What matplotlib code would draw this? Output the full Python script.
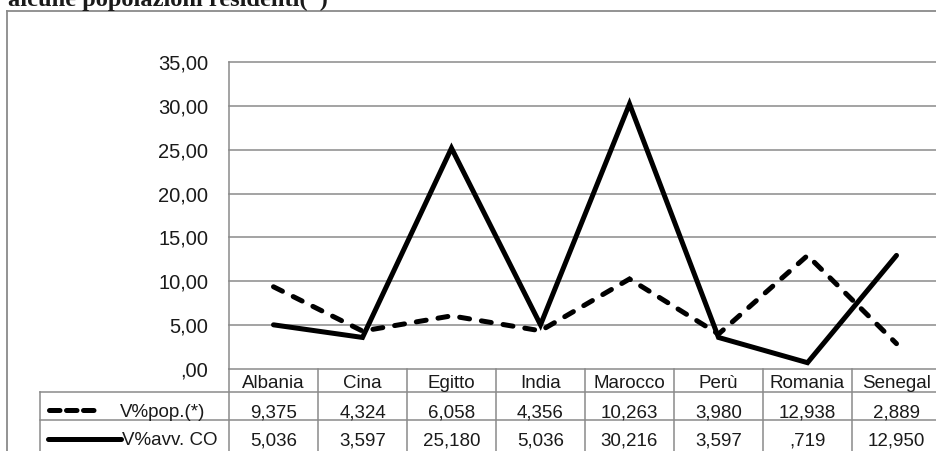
import matplotlib
matplotlib.use("Agg")
import matplotlib.pyplot as plt
from matplotlib.lines import Line2D

W, H, DPI = 937, 451, 100

paesi = ["Albania", "Cina", "Egitto", "India", "Marocco", "Perù", "Romania", "Senegal"]
pop_pct = [9.375, 4.324, 6.058, 4.356, 10.263, 3.980, 12.938, 2.889]
avv_pct = [5.036, 3.597, 25.180, 5.036, 30.216, 3.597, 0.719, 12.950]
serie_nomi = ["V%pop.(*)", "V%avv. CO"]
y_ticks = [0, 5, 10, 15, 20, 25, 30, 35]
titolo = "alcune popolazioni residenti(*)"


def fmt(v, nd):
    s = f"{v:.{nd}f}".replace(".", ",")
    if s.startswith("0,"):
        s = s[1:]
    return s


GRID = "#8a8a8a"
TXT = "#1a1a1a"
FONT = "Liberation Sans"
LW = 3.6
DASH = (0, (2.0, 2.4))

fig = plt.figure(figsize=(W / DPI, H / DPI), dpi=DPI)


def fx(px):
    return px / W


def fy(py):
    return 1 - py / H


def hline(x0, x1, y, **kw):
    fig.add_artist(Line2D([fx(x0), fx(x1)], [fy(y), fy(y)], transform=fig.transFigure,
                          color=kw.pop("color", GRID), lw=kw.pop("lw", 1.1), **kw))


def vline(x, y0, y1, **kw):
    fig.add_artist(Line2D([fx(x), fx(x)], [fy(y0), fy(y1)], transform=fig.transFigure,
                          color=kw.pop("color", GRID), lw=kw.pop("lw", 1.1), **kw))


# outer frame of the chart object
hline(7, 945, 10.5, lw=1.3)
vline(7, 10.5, 460, lw=1.3)

# title (partly above the page edge)
fig.text(fx(8), fy(6), titolo, fontfamily="Liberation Serif", fontweight="bold",
         fontsize=17.6, color=TXT, va="baseline", ha="left")

# plot area
X0, COLW = 229, 89
X1 = X0 + COLW * len(paesi)
Y_TOP, Y_BOT = 62, 369
ax = fig.add_axes([fx(X0), fy(Y_BOT), (X1 - X0) / W, (Y_BOT - Y_TOP) / H])
ax.set_xlim(-0.5, len(paesi) - 0.5)
ax.set_ylim(0, 35)
for s in ["top", "right", "bottom"]:
    ax.spines[s].set_visible(False)
ax.spines["left"].set_color(GRID)
ax.spines["left"].set_linewidth(1.1)
ax.set_xticks([])
ax.set_yticks(y_ticks)
ax.set_yticklabels([fmt(v, 2) for v in y_ticks], fontfamily=FONT, fontsize=14.5, color=TXT)
ax.tick_params(axis="y", length=0, pad=15)
for v in y_ticks:
    ax.axhline(v, color=GRID, lw=1.1, zorder=1, clip_on=False)

xs = list(range(len(paesi)))
ax.plot(xs, pop_pct, color="black", lw=LW, ls=DASH, dash_capstyle="round",
        dash_joinstyle="miter", zorder=3, clip_on=False)
ax.plot(xs, avv_pct, color="black", lw=LW, solid_joinstyle="miter",
        solid_capstyle="round", zorder=3, clip_on=False)

# data table below the axis
R1, R2, YEND = 392, 420, 460
LX = 40
for i in range(1, len(paesi) + 1):
    vline(X0 + i * COLW, Y_BOT, YEND)
vline(X0, Y_BOT, YEND)
vline(LX, R1, YEND)
hline(LX, X1, R1)
hline(LX, X1, R2)

tkw = dict(fontfamily=FONT, fontsize=13.5, color=TXT, ha="center", va="baseline")
for i, (p, a, b) in enumerate(zip(paesi, pop_pct, avv_pct)):
    cx = fx(X0 + (i + 0.5) * COLW)
    fig.text(cx, fy(388), p, **tkw)
    fig.text(cx, fy(417), fmt(a, 3), **tkw)
    fig.text(cx, fy(445), fmt(b, 3), **tkw)

# row labels with series keys
fig.add_artist(Line2D([fx(49), fx(98)], [fy(410), fy(410)], transform=fig.transFigure,
                      color="black", lw=LW, ls=(0, (2.1, 1.3)), dash_capstyle="round"))
fig.add_artist(Line2D([fx(48), fx(121)], [fy(438.5), fy(438.5)], transform=fig.transFigure,
                      color="black", lw=LW, solid_capstyle="round"))
lkw = dict(fontfamily=FONT, fontsize=13.5, color=TXT, ha="left", va="baseline")
fig.text(fx(120), fy(417), serie_nomi[0], **lkw)
fig.text(fx(122), fy(445), serie_nomi[1], **lkw)

fig.savefig("out.png", dpi=DPI)
